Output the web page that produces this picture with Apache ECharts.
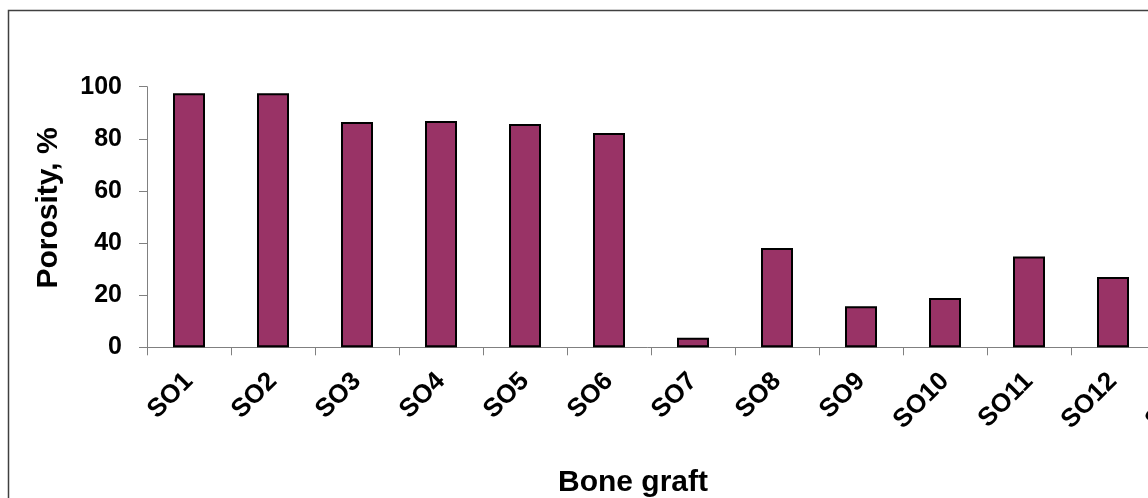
<!DOCTYPE html>
<html>
<head>
<meta charset="utf-8">
<script src="https://cdn.jsdelivr.net/npm/echarts@6/dist/echarts.min.js"></script>
<style>html,body{margin:0;padding:0;background:#fff}#c{width:1148px;height:498px}</style>
</head>
<body>
<div id="c"></div>
<script>
// Data (SO13 bar lies outside the visible area)
const categories = ['SO1','SO2','SO3','SO4','SO5','SO6','SO7','SO8','SO9','SO10','SO11','SO12','SO13'];
const porosity = [97.5, 97.5, 86.5, 86.8, 85.7, 82.2, 3.7, 38.1, 15.8, 18.9, 34.8, 27.0, null];
const yTicks = [0, 20, 40, 60, 80, 100];
const xTitle = 'Bone graft';
const yTitle = 'Porosity, %';

const chart = echarts.init(document.getElementById('c'), null, {renderer: 'canvas'});
const font = '"Liberation Sans", Arial, sans-serif';
chart.setOption({
  animation: false,
  backgroundColor: '#ffffff',
  grid: {left: 147, top: 86.7, height: 260.6, width: 1092, containLabel: false, outerBoundsMode: 'none'},
  xAxis: {
    type: 'category',
    data: categories,
    boundaryGap: true,
    axisLine: {lineStyle: {color: '#808080', width: 1}},
    axisTick: {show: true, alignWithLabel: false, length: 8, lineStyle: {color: '#808080'}},
    axisLabel: {
      interval: 0, rotate: 45, margin: 30, hideOverlap: false,
      fontFamily: font, fontWeight: 'bold', fontSize: 26, color: '#000',
      padding: [24, 0, 0, 0]
    }
  },
  yAxis: {
    type: 'value',
    min: yTicks[0], max: yTicks[yTicks.length - 1], interval: 20,
    splitLine: {show: false},
    axisLine: {show: true, lineStyle: {color: '#808080', width: 1}},
    axisTick: {show: true, length: 8, lineStyle: {color: '#808080'}},
    axisLabel: {margin: 25, fontFamily: font, fontWeight: 'bold', fontSize: 25, color: '#000'}
  },
  series: [{
    type: 'bar',
    data: porosity,
    barWidth: 32,
    itemStyle: {color: '#993366', borderColor: '#000', borderWidth: 2}
  }],
  graphic: [
    {type: 'rect', shape: {x: 8.5, y: 10.5, width: 3000, height: 3000}, style: {fill: 'none', stroke: '#404040', lineWidth: 1.5}, z: 100},
    {type: 'text', x: 633, y: 483, style: {text: xTitle, fontFamily: font, fontWeight: 'bold', fontSize: 30, fill: '#000', textAlign: 'center', textVerticalAlign: 'middle'}},
    {type: 'text', x: 49, y: 208, rotation: Math.PI / 2, style: {text: yTitle, fontFamily: font, fontWeight: 'bold', fontSize: 30, fill: '#000', textAlign: 'center', textVerticalAlign: 'middle'}}
  ]
});
</script>
</body>
</html>
